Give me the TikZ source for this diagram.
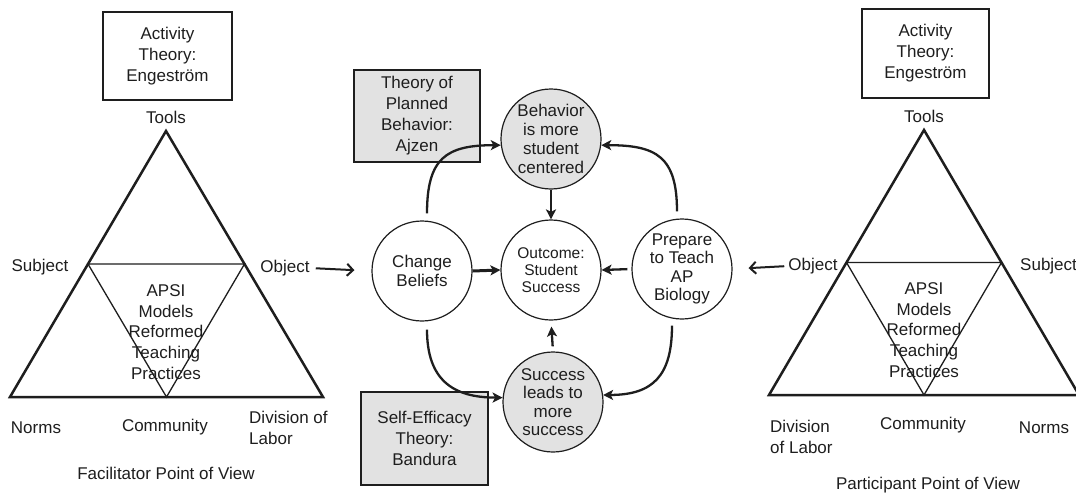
\documentclass[tikz,border=0pt]{standalone}
\usepackage{fontspec}
\setmainfont{Liberation Sans}
\usetikzlibrary{arrows.meta,calc}
\definecolor{ink}{HTML}{1E1E1E}
\definecolor{shade}{HTML}{E2E2E2}
\begin{document}
\begin{tikzpicture}[x=1pt,y=-1pt,
  lbl/.style={font=\fontsize{17}{21}\selectfont, align=center, inner sep=0pt, text=ink},
  theorybox/.style={lbl, draw=ink, line width=1.5pt},
  bubble/.style={circle, draw=ink, line width=1.2pt, minimum size=100pt, inner sep=-4pt,
    align=center, text=ink, font=\fontsize{17}{18.5}\selectfont},
  outer/.style={draw=ink, line width=2.5pt, line join=miter},
  inner/.style={draw=ink, line width=1.3pt},
  flow/.style={draw=ink, line width=2.3pt, -{Stealth[length=10pt,width=10pt,inset=2.5pt]}},
  feed/.style={draw=ink, line width=2pt, -{Straight Barb[length=6pt,width=12pt]}}]
\useasboundingbox (0,0) rectangle (1076,495);
\fill[white] (0,0) rectangle (1076,495);

% ---------- Facilitator activity system ----------
\node[theorybox, minimum width=129pt, minimum height=88pt] (atL) at (167.5,56) {Activity\\Theory:\\Engeström};
\coordinate (LT) at (166,131);
\coordinate (LL) at (10,397);
\coordinate (LR) at (323,397);
\draw[outer] (LT) -- (LL) -- (LR) -- cycle;
\draw[inner] ($(LT)!0.5!(LL)$) -- ($(LT)!0.5!(LR)$) -- ($(LL)!0.5!(LR)$) -- cycle;
\node[lbl] (toolsL) at (166,117) {Tools};
\node[lbl] (subjL) at (40,267) {Subject};
\node[lbl] (objL) at (285,268) {Object};
\node[lbl, font=\fontsize{17}{20.8}\selectfont] (apsiL) at (166,332) {APSI\\Models\\Reformed\\Teaching\\Practices};
\node[lbl] (normsL) at (36,428) {Norms};
\node[lbl] (commL) at (165,427) {Community};
\node[lbl, align=left, anchor=west] (divL) at (249,428) {Division of\\Labor};
\node[lbl] (viewL) at (166,473) {Facilitator Point of View};

% ---------- Participant activity system ----------
\node[theorybox, minimum width=127pt, minimum height=89pt] (atR) at (925.5,53.5) {Activity\\Theory:\\Engeström};
\coordinate (RT) at (924,130);
\coordinate (RL) at (769,395);
\coordinate (RR) at (1079,395);
\draw[outer] (RT) -- (RL) -- (RR) -- cycle;
\draw[inner] ($(RT)!0.5!(RL)$) -- ($(RT)!0.5!(RR)$) -- ($(RL)!0.5!(RR)$) -- cycle;
\node[lbl] (toolsR) at (924,116) {Tools};
\node[lbl] (objR) at (813,266) {Object};
\node[lbl, anchor=west] (subjR) at (1020,266) {Subject};
\node[lbl, font=\fontsize{17}{20.8}\selectfont] (apsiR) at (924,330) {APSI\\Models\\Reformed\\Teaching\\Practices};
\node[lbl, align=left, anchor=west] (divR) at (770,437) {Division\\of Labor};
\node[lbl] (commR) at (923,425) {Community};
\node[lbl] (normsR) at (1044,428) {Norms};
\node[lbl] (viewR) at (928,485) {Participant Point of View};

% ---------- Theories behind the change ----------
\node[theorybox, fill=shade, minimum width=126pt, minimum height=92pt] (tpb) at (417,116) {Theory of\\Planned\\Behavior:\\Ajzen};
\node[theorybox, fill=shade, minimum width=127pt, minimum height=93pt] (set) at (424.5,438.5) {Self-Efficacy\\Theory:\\Bandura};

% ---------- Change cycle ----------
\node[bubble] (cb) at (422,271) {Change\\Beliefs};
\node[bubble, font=\fontsize{15.5}{17}\selectfont] (oc) at (551,270) {Outcome:\\Student\\Success};
\node[bubble] (pr) at (682,269) {Prepare\\to Teach\\AP\\Biology};
\node[bubble, fill=shade, font=\fontsize{17}{19}\selectfont] (bh) at (551,139) {Behavior\\is more\\student\\centered};
\node[bubble, fill=shade] (sc) at (553,402) {Success\\leads to\\more\\success};

% feeds from the two activity systems
\draw[feed, shorten <=6pt, shorten >=17pt] (objL.east) -- (cb.west);
\draw[feed, shorten <=4pt, shorten >=16pt] (objR.west) -- (pr.east);

% arrows into the outcome
\draw[flow, line width=3pt] (cb.east) -- (oc.west);
\draw[flow, shorten <=4pt] (pr.west) -- (oc.east);
\draw[flow] (bh.south) -- (oc.north);
\draw[flow, shorten <=5pt, shorten >=6pt] (sc.north) -- (oc.south);

% curved paths around the cycle
\draw[flow] ([xshift=5pt,yshift=7pt]cb.north) .. controls +(0,-55) and +(-55,0) .. (bh.187);
\draw[flow] ([xshift=-5pt,yshift=7pt]pr.north) .. controls +(0,-55) and +(55,0) .. (bh.353);
\draw[flow] ([xshift=5pt,yshift=-8pt]cb.south) .. controls +(0,50) and +(-50,0) .. (sc.175);
\draw[flow] ([xshift=-10pt,yshift=-6pt]pr.south) .. controls +(0,50) and +(50,0) .. (sc.8);
\end{tikzpicture}
\end{document}
